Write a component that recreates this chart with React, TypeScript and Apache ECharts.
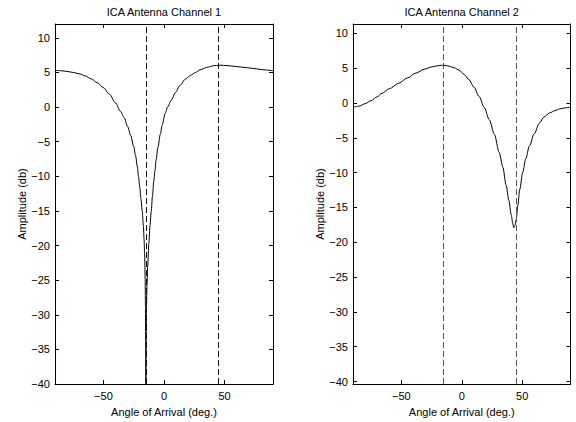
import React, { useEffect, useRef } from 'react';
import * as echarts from 'echarts';

const titles = ['ICA Antenna Channel 1', 'ICA Antenna Channel 2'];
const xName = 'Angle of Arrival (deg.)';
const yName = 'Amplitude (db)';

const angles1 = [-90, -85, -80, -75, -70, -65, -60, -55, -50, -45, -40, -36, -33, -30, -27.5, -25, -23.5, -22, -21, -20, -19, -18, -17, -16.5, -16, -15.6, -15.3, -15.1, -15, -14.8, -14.5, -14, -13.5, -12.5, -11.5, -10.5, -9.5, -8.5, -7.5, -6.5, -5, -3, -1.5, 1, 3, 6, 9.5, 13, 17.8, 22, 26, 30, 35.7, 41, 46, 52, 60, 68, 77, 84, 90];
const amp1 = [5.3, 5.25, 5.15, 5.0, 4.8, 4.5, 4.07, 3.5, 2.8, 1.85, 0.6, -0.6, -1.5, -2.8, -4.1, -5.7, -7.0, -8.6, -10.1, -11.6, -13.3, -15.0, -17.2, -19.0, -21.2, -24.5, -29, -34, -40, -34, -29, -25.5, -23, -19.7, -17, -15, -12.8, -10.8, -9.2, -7.6, -5.8, -3.9, -2.6, -0.9, 0.0, 1.0, 2.1, 3.1, 4.05, 4.6, 5.0, 5.4, 5.75, 5.97, 6.05, 6.0, 5.85, 5.7, 5.5, 5.35, 5.25];

const angles2 = [-90, -85, -80, -75, -70, -66, -60, -52, -45, -38, -31, -24.5, -19, -15, -10.6, -6, -2.25, 2, 6, 10, 14.4, 18.5, 22.8, 27, 31, 34, 36.7, 39, 41, 42.2, 43, 44, 45, 46.4, 48, 50.5, 53, 56, 60, 64.4, 68, 72.8, 77, 81, 85, 90];
const amp2 = [-0.6, -0.45, -0.1, 0.35, 0.9, 1.4, 2.05, 2.85, 3.6, 4.3, 4.85, 5.2, 5.38, 5.44, 5.3, 5.05, 4.73, 4.1, 3.35, 2.3, 0.95, -0.6, -2.4, -4.5, -7.1, -9.2, -11.8, -14.0, -16.1, -17.3, -17.9, -17.6, -16.8, -14.7, -12.4, -9.9, -8.0, -6.15, -4.4, -2.85, -2.0, -1.42, -1.1, -0.85, -0.7, -0.6];

const markers1 = [-15, 45];
const markers2 = [-15, 45];

const xTicks = [-50, 0, 50];
const yTicks = [-40, -35, -30, -25, -20, -15, -10, -5, 0, 5, 10];

const xRange = [-90, 90];
const yRange1 = [-40, 12];
const yRange2 = [-40.35, 11.35];

const FONT = "'Liberation Sans', Arial, Helvetica, sans-serif";

const fmtNum = (v: number) => (v < 0 ? '\u2212' + Math.abs(v) : String(v));

export default function App() {
  const ref = useRef<HTMLDivElement>(null);
  useEffect(() => {
    if (!ref.current) return;
    const chart = echarts.init(ref.current, undefined, { renderer: 'svg' });
    const grids = [
      { left: 55, top: 24, width: 218, height: 365 },
      { left: 353, top: 24, width: 217.5, height: 365 },
    ];
    const yRanges = [yRange1, yRange2];
    const data = [
      angles1.map((a, i) => [a, amp1[i]]),
      angles2.map((a, i) => [a, amp2[i]]),
    ];
    const markers = [markers1, markers2];
    const dashColors = ['#111', '#555'];

    const xAxis: any[] = [];
    const yAxis: any[] = [];
    const series: any[] = [];
    const graphic: any[] = [];
    const axLine = { show: true, onZero: false, lineStyle: { color: '#000', width: 1 } };
    const tickX = { show: true, inside: true, length: 4, customValues: xTicks, lineStyle: { color: '#000', width: 1 } };
    const tickY = { show: true, inside: true, length: 4, customValues: yTicks, lineStyle: { color: '#000', width: 1 } };
    const labelStyle = { color: '#000', fontFamily: FONT, fontSize: 11 };
    const nameStyle = { color: '#000', fontFamily: FONT, fontSize: 11 };

    grids.forEach((g, i) => {
      xAxis.push({
        type: 'value', gridIndex: i, min: xRange[0], max: xRange[1],
        position: 'bottom',
        axisLine: axLine,
        axisTick: tickX,
        splitLine: { show: false },
        axisLabel: { ...labelStyle, margin: 6, customValues: xTicks, formatter: fmtNum },
        name: xName, nameLocation: 'middle', nameGap: 22,
        nameTextStyle: nameStyle,
      });
      xAxis.push({
        type: 'value', gridIndex: i, min: xRange[0], max: xRange[1],
        position: 'top',
        axisLine: axLine,
        axisTick: tickX,
        splitLine: { show: false },
        axisLabel: { show: false },
      });
      yAxis.push({
        type: 'value', gridIndex: i, min: yRanges[i][0], max: yRanges[i][1],
        position: 'left',
        axisLine: axLine,
        axisTick: tickY,
        splitLine: { show: false },
        axisLabel: { ...labelStyle, margin: 5, customValues: yTicks, formatter: fmtNum },
        name: yName, nameLocation: 'middle', nameGap: 25, nameRotate: 90,
        nameTextStyle: nameStyle,
      });
      yAxis.push({
        type: 'value', gridIndex: i, min: yRanges[i][0], max: yRanges[i][1],
        position: 'right',
        axisLine: axLine,
        axisTick: tickY,
        splitLine: { show: false },
        axisLabel: { show: false },
      });
      series.push({
        type: 'line',
        xAxisIndex: i * 2,
        yAxisIndex: i * 2,
        data: data[i],
        showSymbol: false,
        symbol: 'none',
        smooth: 0.3,
        smoothMonotone: 'x',
        lineStyle: { color: '#000', width: 1 },
        markLine: {
          silent: true,
          symbol: ['none', 'none'],
          label: { show: false },
          lineStyle: { type: [6, 3], color: dashColors[i], width: 1 },
          data: markers[i].map((m) => ({ xAxis: m })),
        },
      });
      graphic.push({
        type: 'text',
        x: g.left + g.width / 2,
        y: 12,
        style: {
          text: titles[i], fill: '#000', font: `11px ${FONT}`,
          textAlign: 'center', textVerticalAlign: 'middle',
        },
      });
    });

    chart.setOption({
      animation: false,
      backgroundColor: '#fff',
      grid: grids.map((g) => ({ ...g, containLabel: false })),
      xAxis,
      yAxis,
      series,
      graphic,
    });
    return () => chart.dispose();
  }, []);
  return (
    <div
      ref={ref}
      style={{ position: 'fixed', left: 0, top: 0, width: 576, height: 422, background: '#fff' }}
    />
  );
}
